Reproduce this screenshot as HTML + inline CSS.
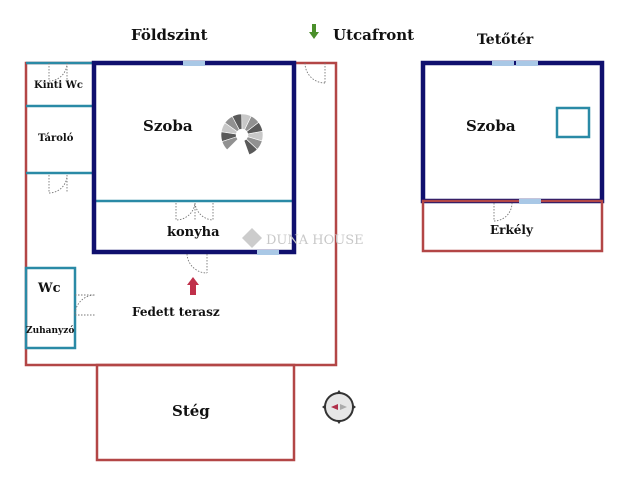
<!DOCTYPE html>
<html><head><meta charset="utf-8"><style>
html,body{margin:0;padding:0;background:#fff;}
svg{display:block;}
text{font-family:"DejaVu Serif","Liberation Serif",serif;font-weight:bold;fill:#111;}
</style></head><body>
<svg id="s" width="621" height="480" viewBox="0 0 621 480" xmlns="http://www.w3.org/2000/svg">
<rect width="621" height="480" fill="#fff"/>
<!-- titles -->
<text x="131" y="40" font-size="15">Földszint</text>
<text x="333" y="40" font-size="15">Utcafront</text>
<text x="477" y="44" font-size="14">Tetőtér</text>
<path d="M312 24 h4 v8 h3 l-5 7 l-5 -7 h3z" fill="#4a8f2a"/>

<!-- ground floor outer red -->
<rect x="26" y="63" width="310" height="302" fill="none" stroke="#b34646" stroke-width="2.5"/>
<!-- stég -->
<rect x="97" y="365" width="197" height="95" fill="none" stroke="#b34646" stroke-width="2.5"/>
<!-- small rooms teal -->
<g stroke="#2a8aa6" stroke-width="2.5" fill="none">
<line x1="26" y1="63" x2="94" y2="63"/>
<line x1="26" y1="106" x2="94" y2="106"/>
<line x1="26" y1="173" x2="94" y2="173"/>
<rect x="26" y="268" width="49" height="80"/>
<line x1="94" y1="201" x2="294" y2="201"/>
<rect x="557" y="108" width="32" height="29"/>
</g>
<!-- navy main -->
<rect x="94" y="63" width="200" height="189" fill="none" stroke="#10106e" stroke-width="4.5"/>
<rect x="423" y="63" width="179" height="138" fill="none" stroke="#10106e" stroke-width="4.5"/>
<rect x="423" y="201" width="179" height="50" fill="none" stroke="#b34646" stroke-width="2.5"/>
<!-- windows -->
<g fill="#a9c8e6">
<rect x="183" y="61" width="22" height="5"/>
<rect x="257" y="250" width="22" height="5"/>
<rect x="492" y="61" width="22" height="5"/>
<rect x="516" y="61" width="22" height="5"/>
<rect x="519" y="199" width="22" height="5"/>
</g>
<!-- doors dotted -->
<g fill="none" stroke="#777" stroke-width="0.9" stroke-dasharray="1.5,1.5">
<path d="M49 63 v18 A18 18 0 0 0 67 63 M67 63 v18"/>
<path d="M49 175 v18 A18 18 0 0 0 67 175 M67 175 v18"/>
<path d="M305 63 A20 20 0 0 0 325 83 M325 63 v20"/>
<path d="M176 203 v17 A19 19 0 0 0 195 203 M195 203 v17 M195 203 A19 19 0 0 0 213 220 M213 203 v17"/>
<path d="M187 254 A20 20 0 0 0 207 273 M207 254 v19"/>
<path d="M75 295 h20 A20 20 0 0 0 75 315 M75 315 h20"/>
<path d="M494 203 v18 A18 18 0 0 0 512 203"/>
</g>
<g id="stair"></g>
<!-- red arrow -->
<path d="M193 277 l-6 8 h3 v10 h6 v-10 h3z" fill="#c0304a"/>
<!-- watermark -->
<path d="M252 228 l10 10 l-10 10 l-10 -10z" fill="#ccc"/>
<text x="266" y="244" font-size="13" font-weight="normal" style="font-weight:normal;fill:#c8c8c8">DUNA HOUSE</text>
<!-- labels -->
<text x="34" y="88" font-size="10">Kinti Wc</text>
<text x="38" y="141" font-size="10">Tároló</text>
<text x="143" y="131" font-size="15">Szoba</text>
<text x="167" y="236" font-size="13">konyha</text>
<text x="38" y="292" font-size="13">Wc</text>
<text x="26" y="333" font-size="9">Zuhanyzó</text>
<text x="132" y="316" font-size="12">Fedett terasz</text>
<text x="172" y="416" font-size="15">Stég</text>
<text x="466" y="131" font-size="15">Szoba</text>
<text x="490" y="234" font-size="12">Erkély</text>
<!-- compass -->
<g>
<circle cx="339" cy="407" r="14" fill="#e6e6e6" stroke="#333" stroke-width="2"/>
<path d="M339 390 l-3 4 h6z M339 424 l-3 -4 h6z M322 407 l4 -3 v6z M356 407 l-4 -3 v6z" fill="#333"/>
<path d="M331 407 l7 -3 v6z" fill="#b0304a"/>
<path d="M347 407 l-7 -3 v6z" fill="#aaa"/>
</g>
</svg>
<script>
var g=document.getElementById('stair'),cx=242,cy=135,ri=6,ro=21,n=11;
var a0=-70,a1=225;
for(var i=0;i<n;i++){var s=(a0+(a1-a0)*i/n)*Math.PI/180,e=(a0+(a1-a0)*(i+1)/n)*Math.PI/180;
var p='M'+(cx+ri*Math.cos(-s))+' '+(cy+ri*Math.sin(-s))+' L'+(cx+ro*Math.cos(-s))+' '+(cy+ro*Math.sin(-s))+' A'+ro+' '+ro+' 0 0 0 '+(cx+ro*Math.cos(-e))+' '+(cy+ro*Math.sin(-e))+' L'+(cx+ri*Math.cos(-e))+' '+(cy+ri*Math.sin(-e))+'Z';
var el=document.createElementNS('http://www.w3.org/2000/svg','path');el.setAttribute('d',p);
var c=90+Math.round(110*((i%3)/2));el.setAttribute('fill','rgb('+c+','+c+','+c+')');el.setAttribute('stroke','#fff');el.setAttribute('stroke-width','0.6');g.appendChild(el);}
</script>
</body></html>
